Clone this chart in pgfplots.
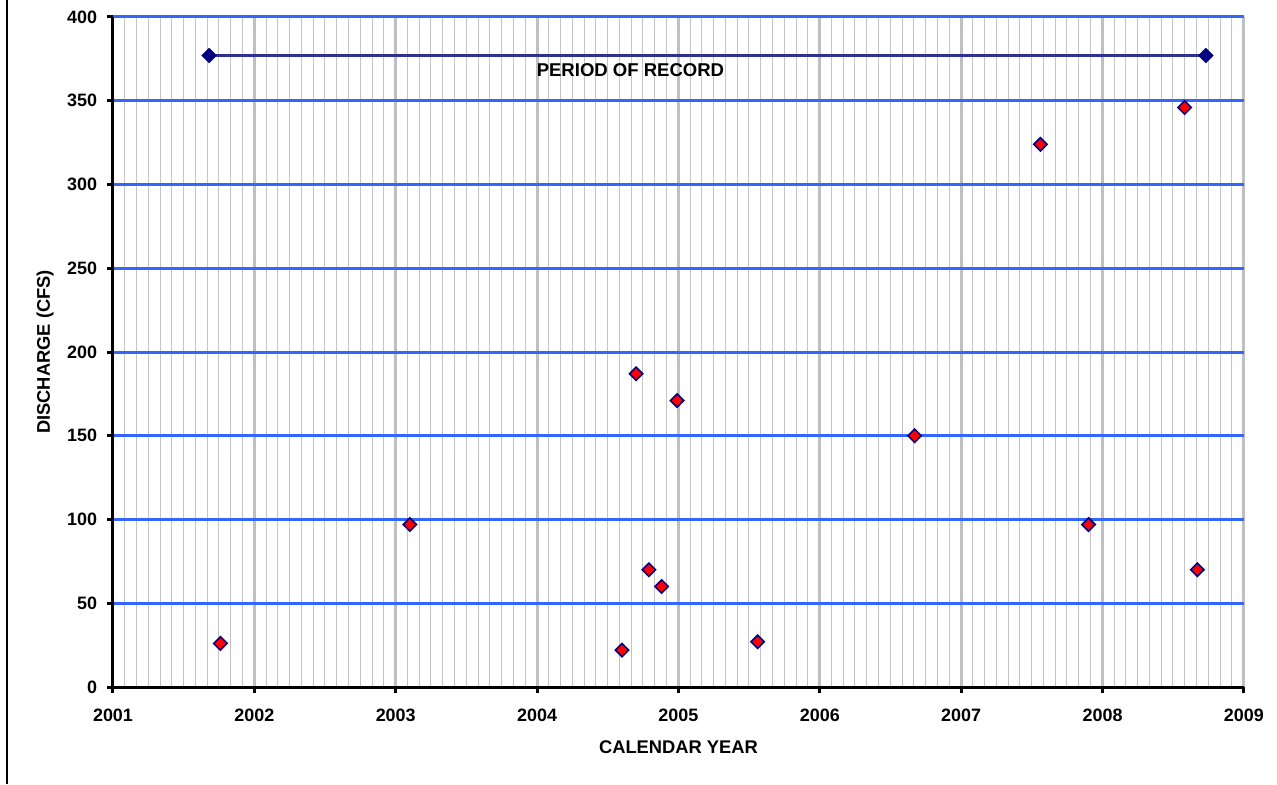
\documentclass[border=0pt]{standalone}
\usepackage{pgfplots}
\pgfplotsset{compat=1.18}
\usepackage{fontspec}
\setmainfont{Liberation Sans}
\definecolor{gridblue}{RGB}{51,102,255}
\definecolor{navy}{RGB}{0,0,128}
\definecolor{recline}{RGB}{46,49,146}
\definecolor{majgray}{RGB}{192,192,192}
\definecolor{mingray}{RGB}{196,196,196}

\pgfplotstableread{
x y
2001.76 26
2003.10 97
2004.60 22
2004.70 187
2004.79 70
2004.88 60
2004.99 171
2005.56 27
2006.67 150
2007.56 324
2007.90 97
2008.58 346
2008.67 70
}\measured

\pgfplotstableread{
x y
2001.68 377
2008.73 377
}\record

\begin{document}
\begin{tikzpicture}[x=1bp,y=1bp]
\useasboundingbox (-56.5,-48.5) rectangle (582,343.5);
\draw[line width=1bp] (-53,-48.5) -- (-53,343.5);
\begin{axis}[
    at={(0,0)}, anchor=south west,
    scale only axis, width=565.5bp, height=335bp,
    xmin=2001, xmax=2009, ymin=0, ymax=400,
    xtick={2001,...,2009}, ytick={0,50,...,400},
    minor xtick={2001,2001.0833333,...,2009},
    axis lines*=left,
    axis line style={black, line width=1.5bp},
    grid=both,
    major x grid style={majgray, line width=1.5bp},
    minor x grid style={mingray, line width=0.5bp},
    major y grid style={gridblue, line width=1.5bp},
    tick align=outside, major tick length=3bp, minor tick length=0pt,
    tick style={black, line width=1.5bp},
    /pgf/number format/assume math mode=true,
    x tick label style={/pgf/number format/1000 sep=, yshift=-4.5bp},
    y tick label style={xshift=-1.5bp},
    ticklabel style={font=\bfseries\fontsize{9}{11}\selectfont},
    xlabel={CALENDAR YEAR}, ylabel={DISCHARGE (CFS)},
    label style={font=\bfseries\fontsize{9.2}{11}\selectfont},
    xlabel style={at={(axis description cs:0.5,-0.0896)}, anchor=center},
    ylabel style={at={(axis description cs:-0.060,0.5)}, anchor=center},
    clip=false,
]
\addplot[recline, line width=1.7bp, mark=square*, mark size=2.5bp,
    mark options={rotate=45, fill=navy, draw=navy, line width=0.5bp}]
    table[x=x, y=y] {\record};
\addplot[only marks, mark=square*, mark size=2.35bp,
    mark options={rotate=45, fill=red, draw=navy, line width=0.8bp}]
    table[x=x, y=y] {\measured};
\node[font=\bfseries\fontsize{9.3}{11}\selectfont] at (axis cs:2004.66,368) {PERIOD OF RECORD};
\end{axis}
\end{tikzpicture}
\end{document}
